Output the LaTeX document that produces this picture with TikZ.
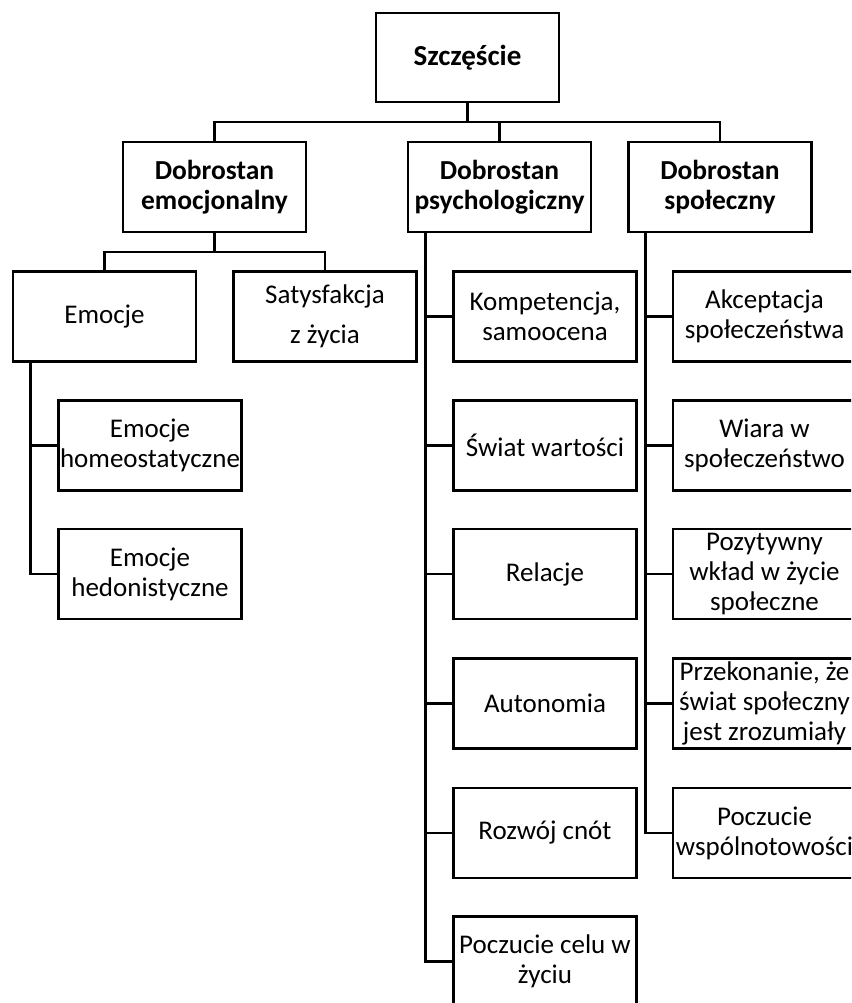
\documentclass[tikz,border=0pt]{standalone}
\usepackage{fontspec}
\setmainfont{Carlito}
\begin{document}
\begin{tikzpicture}[x=1pt,y=-1pt,
  box/.style={draw=black,line width=2.6pt,rectangle,minimum width=183pt,minimum height=90pt,
    inner sep=0pt,align=center,font=\fontsize{27}{30}\selectfont},
  hbox/.style={box,font=\bfseries\fontsize{27.5}{30}\selectfont},
  conn/.style={draw=black,line width=2.6pt}]
\fill[white] (0,0) rectangle (851,1003);
\useasboundingbox (0,0) rectangle (851,1003);
\clip (0,0) rectangle (851,1003);
% level 0
\node[hbox,minimum height=89pt,font=\bfseries\fontsize{29}{32}\selectfont] (top) at (467.5,57.5) {Szczęście};
% level 1
\node[hbox] (e) at (214.5,187) {Dobrostan\\emocjonalny};
\node[hbox] (p) at (499.5,187) {Dobrostan\\psychologiczny};
\node[hbox] (s) at (720,187) {Dobrostan\\społeczny};
% emotional
\node[box] (emo) at (104.5,316.5) {Emocje};
\node[box] (sat) at (325,316.5) {Satysfakcja\\[10pt]z życia};
\node[box] (homeo) at (150,445.5) {Emocje\\homeostatyczne};
\node[box] (hedon) at (150,574) {Emocje\\hedonistyczne};
% psychological
\node[box] (p1) at (545,316.5) {Kompetencja,\\samoocena};
\node[box] (p2) at (545,445.5) {Świat wartości};
\node[box] (p3) at (545,574) {Relacje};
\node[box] (p4) at (545,703.5) {Autonomia};
\node[box] (p5) at (545,833) {Rozwój cnót};
\node[box] (p6) at (545,961.5) {Poczucie celu w\\życiu};
% social
\node[box] (s1) at (764.5,316.5) {Akceptacja\\społeczeństwa};
\node[box] (s2) at (764.5,445.5) {Wiara w\\społeczeństwo};
\node[box] (s3) at (764.5,574) {Pozytywny\\wkład w życie\\społeczne};
\node[box] (s4) at (764.5,703.5) {Przekonanie, że\\świat społeczny\\jest zrozumiały};
\node[box] (s5) at (764.5,833) {Poczucie\\wspólnotowości};
% connectors level 0 -> 1
\coordinate (h1) at (467.5,122);
\draw[conn] (top.south) -- (h1);
\draw[conn] (e.north) |- (h1) -| (s.north);
\draw[conn] (p.north) -- (p.north |- h1);
% emotional bracket
\coordinate (h2) at (214.5,252);
\draw[conn] (e.south) -- (h2);
\draw[conn] (emo.north) |- (h2) -| (sat.north);
\coordinate (et) at ([xshift=19pt]emo.south west);
\draw[conn] (et) |- (hedon.west);
\draw[conn] (homeo.west) -- (homeo.west -| et);
% psychological trunk
\coordinate (pt) at ([xshift=19pt]p.south west);
\draw[conn] (pt) |- (p6.west);
\foreach \n in {p1,p2,p3,p4,p5} \draw[conn] (\n.west) -- (\n.west -| pt);
% social trunk
\coordinate (st) at ([xshift=18pt]s.south west);
\draw[conn] (st) |- (s5.west);
\foreach \n in {s1,s2,s3,s4} \draw[conn] (\n.west) -- (\n.west -| st);
\end{tikzpicture}
\end{document}
